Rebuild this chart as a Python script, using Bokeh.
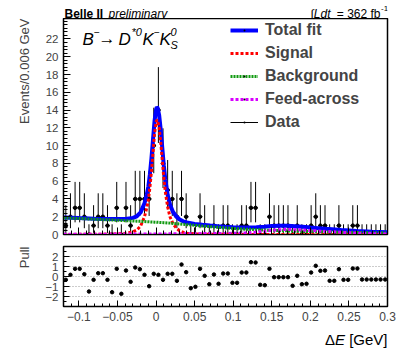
import numpy as np
from bokeh.plotting import figure
from bokeh.layouts import column
from bokeh.models import Range1d, FixedTicker, Label, Legend, LegendItem, Title
from bokeh.embed import file_html
from bokeh.resources import INLINE

# ---------------- data ----------------
x_low = -0.12
bin_width = 0.006
n_bins = 70

counts = [1, 2, 3, 3, 2, 0, 1, 2, 2, 1,
          0, 3, 0, 3, 1, 4, 4, 4, 4, 10,
          14, 8, 5, 4, 2, 4, 2, 0, 0, 2,
          1, 0, 1, 0, 1, 1, 0, 0, 1, 1,
          3, 3, 0, 0, 2, 1, 1, 1, 1, 0,
          1, 0, 0, 1, 2, 1, 1, 0, 0, 1,
          0, 0, 1, 1, 0, 0, 0, 0, 0, 0]

pulls = [-0.33, 0.17, 0.77, 0.77, 0.23, -1.5, -0.33, 0.33, 0.33, -0.33,
         -1.57, 0.77, -1.73, 0.6, -0.53, 0.9, 0.73, 0.17, -0.97, 0.27,
         0.17, -0.33, 0.27, 0.27, -0.43, 1.2, 0.43, -1.17, -1.03, 0.77,
         0.07, -0.77, 0.2, -0.73, 0.3, 0.3, -0.63, -0.63, 0.4, 0.4,
         1.43, 1.4, -0.83, -0.87, 0.77, -0.07, -0.07, -0.07, -0.07, -0.93,
         0.07, -0.77, -0.73, 0.4, 1.07, 0.57, 0.6, -0.43, -0.43, 0.73,
         -0.33, -0.33, 0.8, 0.8, -0.3, -0.3, -0.3, -0.3, -0.3, -0.3]

# Poisson (68%) intervals for n = 0..14
poisson_low = [0.0, 0.827, 1.292, 1.633, 1.914, 2.159, 2.379, 2.580,
               2.768, 2.943, 3.108, 3.266, 3.416, 3.559, 3.698]
poisson_high = [1.148, 2.299, 2.637, 2.918, 3.162, 3.382, 3.583, 3.770,
                3.945, 4.110, 4.266, 4.416, 4.559, 4.697, 4.830]

fit_x = [-0.12, -0.10, -0.08, -0.06, -0.05, -0.04, -0.03, -0.025, -0.02, -0.015,
         -0.012, -0.01, -0.008, -0.006, -0.004, -0.002, 0.0, 0.001, 0.002, 0.004,
         0.006, 0.008, 0.01, 0.012, 0.015, 0.018, 0.022, 0.026, 0.03, 0.035,
         0.04, 0.05, 0.06, 0.07, 0.08, 0.09, 0.10, 0.11, 0.12, 0.13,
         0.14, 0.15, 0.16, 0.17, 0.18, 0.19, 0.20, 0.21, 0.22, 0.24,
         0.26, 0.28, 0.30]

signal = [0.01, 0.015, 0.025, 0.05, 0.08, 0.14, 0.3, 0.5, 0.95, 2.0,
          3.0, 3.9, 5.3, 7.1, 9.2, 11.3, 12.6, 12.9, 12.8, 12.0,
          10.4, 8.4, 6.4, 4.8, 3.1, 2.0, 1.2, 0.75, 0.45, 0.25,
          0.15, 0.07, 0.04, 0.03, 0.02, 0.02, 0.015, 0.01, 0.01, 0.01,
          0.01, 0.01, 0.01, 0.01, 0.01, 0.01, 0.005, 0.005, 0.005, 0.005,
          0.005, 0.005, 0.005]

background = [1.88, 1.80, 1.72, 1.64, 1.60, 1.56, 1.52, 1.50, 1.48, 1.46,
              1.44, 1.43, 1.42, 1.41, 1.40, 1.39, 1.38, 1.37, 1.37, 1.36,
              1.35, 1.34, 1.33, 1.32, 1.30, 1.28, 1.25, 1.22, 1.19, 1.15,
              1.11, 1.03, 0.95, 0.88, 0.81, 0.74, 0.68, 0.63, 0.58, 0.54,
              0.50, 0.47, 0.44, 0.41, 0.38, 0.35, 0.33, 0.31, 0.29, 0.26,
              0.23, 0.20, 0.18]

feed_across = [0.03, 0.03, 0.04, 0.04, 0.05, 0.05, 0.05, 0.05, 0.06, 0.06,
               0.06, 0.06, 0.06, 0.06, 0.06, 0.07, 0.07, 0.07, 0.07, 0.07,
               0.07, 0.07, 0.07, 0.07, 0.07, 0.08, 0.08, 0.08, 0.08, 0.08,
               0.09, 0.09, 0.10, 0.10, 0.11, 0.12, 0.13, 0.15, 0.19, 0.27,
               0.37, 0.47, 0.54, 0.56, 0.54, 0.50, 0.45, 0.40, 0.35, 0.25,
               0.16, 0.10, 0.06]

x_ticks = [-0.1, -0.05, 0.0, 0.05, 0.1, 0.15, 0.2, 0.25, 0.3]
x_tick_labels = ["\u22120.1", "\u22120.05", "0", "0.05", "0.1", "0.15", "0.2", "0.25", "0.3"]
y_ticks = [0, 2, 4, 6, 8, 10, 12, 14, 16, 18, 20, 22]
pull_ticks = [-2, -1, 0, 1, 2]
pull_tick_labels = ["\u22122", "\u22121", "0", "1", "2"]

# ---------------- derived ----------------
centers = np.array([x_low + bin_width * (i + 0.5) for i in range(n_bins)])
cnt = np.array(counts, dtype=float)
err_lo = np.array([poisson_low[c] for c in counts])
err_hi = np.array([poisson_high[c] for c in counts])
total = np.array(signal) + np.array(background) + np.array(feed_across)

FONT = "Liberation Sans"
BLUE = "#0000ff"
RED = "#ff0000"
GREEN = "#119a11"
MAGENTA = "#d800ff"
W = 403
LEFT = 63
RIGHT = 16


def lab(fig, x, y, text, size, style="normal", align="left", baseline="alphabetic"):
    # screen units: relative to the frame's bottom-left corner
    fig.add_layout(Label(x=x, y=y, x_units="screen", y_units="screen", text=text,
                         text_font=FONT, text_font_size=size, text_font_style=style,
                         text_align=align, text_baseline=baseline, text_color="black"))


def text_strip(height, x_range):
    """Axis-less strip whose frame lines up with the plot frames."""
    f = figure(width=W, height=height, x_range=x_range, y_range=Range1d(0, 1),
               output_backend="svg", toolbar_location=None,
               min_border_left=LEFT, min_border_right=RIGHT, min_border_top=0, min_border_bottom=0)
    f.axis.visible = False
    f.grid.visible = False
    f.outline_line_color = None
    return f


# ---------------- main plot ----------------
p = figure(width=W, height=224, x_range=Range1d(-0.12, 0.3), y_range=Range1d(0, 24.3),
           output_backend="svg", toolbar_location=None,
           min_border_left=LEFT, min_border_right=RIGHT, min_border_top=0, min_border_bottom=8)
p.grid.visible = False
p.outline_line_color = "black"
p.outline_line_width = 1.5
p.background_fill_color = "white"
p.border_fill_color = "white"

p.yaxis.ticker = FixedTicker(ticks=y_ticks, minor_ticks=list(np.arange(0, 24.3, 0.4)))
p.yaxis.major_label_text_font = FONT
p.yaxis.major_label_text_font_size = "11.5px"
p.yaxis.major_tick_in = 7
p.yaxis.major_tick_out = 0
p.yaxis.minor_tick_in = 4
p.yaxis.minor_tick_out = 0
p.yaxis.major_label_standoff = 5

p.xaxis.ticker = FixedTicker(ticks=x_ticks, minor_ticks=list(np.arange(-0.12, 0.301, 0.01)))
p.xaxis.major_label_overrides = {t: "" for t in x_ticks}
p.xaxis.major_label_text_font_size = "1px"
p.xaxis.major_label_standoff = 0
p.xaxis.major_tick_in = 7
p.xaxis.major_tick_out = 0
p.xaxis.minor_tick_in = 4
p.xaxis.minor_tick_out = 0

# data points with Poisson errors
p.segment(x0=centers, y0=cnt - err_lo, x1=centers, y1=cnt + err_hi, line_color="black", line_width=1)
r_hbar = p.segment(x0=centers - bin_width / 2, y0=cnt, x1=centers + bin_width / 2, y1=cnt,
                   line_color="black", line_width=1)
p.scatter(centers, cnt, size=3.5, color="black")
r_dot = p.scatter(centers, cnt, marker="dot", size=5, color="black")

# fit curves
r_tot = p.line(fit_x, total, line_color=BLUE, line_width=4)
r_sig = p.line(fit_x, signal, line_color=RED, line_width=3, line_dash="3 2")
r_bkg = p.line(fit_x, background, line_color=GREEN, line_width=3, line_dash="2 1")
r_fa = p.line(fit_x, feed_across, line_color=MAGENTA, line_width=3, line_dash="3 2")

legend = Legend(items=[
    LegendItem(label="Total fit", renderers=[r_tot, r_dot]),
    LegendItem(label="Signal", renderers=[r_sig]),
    LegendItem(label="Background", renderers=[r_bkg, r_dot]),
    LegendItem(label="Feed-across", renderers=[r_fa, r_dot]),
    LegendItem(label="Data", renderers=[r_hbar, r_dot]),
], location=(167, 102))
legend.label_text_font = FONT
legend.label_text_font_style = "bold"
legend.label_text_font_size = "16px"
legend.glyph_width = 28
legend.glyph_height = 20
legend.label_height = 20
legend.spacing = 3
legend.padding = 0
legend.margin = 0
legend.label_standoff = 7
legend.background_fill_alpha = 0
legend.border_line_alpha = 0
p.add_layout(legend)

# B- -> D*0 K- K0S
lab(p, 19, 195, "B", "17px", "italic")
lab(p, 30.5, 203, "\u2212", "10px")
lab(p, 35, 196, "\u2192", "17px")
lab(p, 55, 195, "D", "17px", "italic")
lab(p, 68, 203, "*0", "11px", "italic")
lab(p, 79, 195, "K", "17px", "italic")
lab(p, 90.5, 203, "\u2212", "10px")
lab(p, 96, 195, "K", "17px", "italic")
lab(p, 107, 203, "0", "11px", "italic")
lab(p, 107, 190, "S", "11px", "italic")

p.add_layout(Title(text="Events/0.006 GeV", align="right", text_font=FONT,
                   text_font_size="13px", text_font_style="normal", standoff=22), "left")

# ---------------- header ----------------
h = text_strip(18, p.x_range)
lab(h, 1, 5, "Belle II", "12px", "bold")
lab(h, 45, 5, "preliminary", "12px", "italic")
lab(h, 267, 5, "\u222bLdt", "12px", "italic", align="right")
lab(h, 317, 5, "= 362 fb", "12px", align="right")
lab(h, 317.5, 10, "-1", "8px")

# ---------------- pull plot ----------------
q = figure(width=W, height=86, x_range=p.x_range, y_range=Range1d(-3, 3),
           output_backend="svg", toolbar_location=None,
           min_border_left=LEFT, min_border_right=RIGHT, min_border_top=4, min_border_bottom=22)
q.outline_line_color = "black"
q.outline_line_width = 1.5
q.xgrid.visible = False
q.ygrid.ticker = FixedTicker(ticks=pull_ticks)
q.ygrid.grid_line_color = "#999999"
q.ygrid.grid_line_dash = "1 2"
q.ygrid.grid_line_width = 1

q.yaxis.ticker = FixedTicker(ticks=pull_ticks, minor_ticks=[-2.5, -1.5, -0.5, 0.5, 1.5, 2.5])
q.yaxis.major_label_overrides = dict(zip(pull_ticks, pull_tick_labels))
q.yaxis.major_label_text_font = FONT
q.yaxis.major_label_text_font_size = "11.5px"
q.yaxis.major_tick_in = 6
q.yaxis.major_tick_out = 0
q.yaxis.minor_tick_in = 3
q.yaxis.minor_tick_out = 0
q.yaxis.major_label_standoff = 5

q.xaxis.ticker = FixedTicker(ticks=x_ticks, minor_ticks=list(np.arange(-0.12, 0.301, 0.01)))
q.xaxis.major_label_overrides = dict(zip(x_ticks, x_tick_labels))
q.xaxis.major_label_text_font = FONT
q.xaxis.major_label_text_font_size = "12px"
q.xaxis.major_tick_in = 6
q.xaxis.major_tick_out = 0
q.xaxis.minor_tick_in = 3
q.xaxis.minor_tick_out = 0
q.xaxis.major_label_standoff = 5

q.scatter(centers, pulls, size=3.5, color="black")

q.add_layout(Title(text="Pull", align="right", text_font=FONT,
                   text_font_size="13px", text_font_style="normal", standoff=22), "left")

# ---------------- footer (x-axis title) ----------------
f = text_strip(20, p.x_range)
lab(f, 324, 9, "[GeV]", "15px", align="right")
lab(f, 281.5, 9, "E", "15px", "italic", align="right")
lab(f, 271.5, 9, "\u0394", "15px", align="right")

layout = column(h, p, q, f, spacing=0)
open("out.html", "w").write(file_html(layout, INLINE))
